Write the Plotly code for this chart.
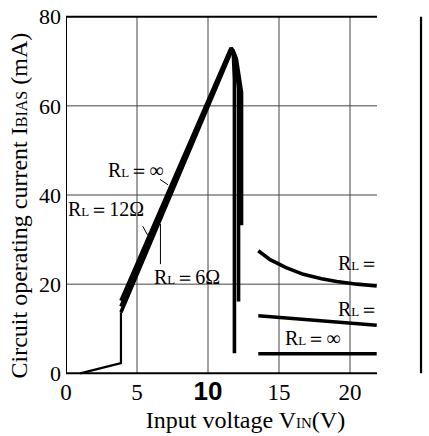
import plotly.graph_objects as go

# ---- data ----
x_ticks = [0, 5, 10, 15, 20, 25]
x_labels = ["0", "5", "10", "15", "20", "25"]
y_ticks = [0, 20, 40, 60, 80]
y_labels = ["0", "20", "40", "60", "80"]
grid_x = [5, 10, 15, 20]
grid_y = [20, 40, 60]
x_drawn_end = 21.9   # scan is blank beyond this voltage

vin_startup = [1.0, 3.87, 3.87]
ibias_startup = [0.0, 2.3, 13.7]

# RL = infinity
vin_rinf = [3.87, 11.5, 11.62, 11.78, 11.86, 11.86, None, 13.54, 21.88]
ibias_rinf = [16.3, 72.2, 73.0, 72.0, 66.0, 4.5, None, 4.4, 4.4]
# RL = 12 ohm
vin_r12 = [3.87, 11.57, 11.7, 11.92, 12.15, 12.15, None, 13.54, 17.7, 21.88]
ibias_r12 = [15.0, 72.3, 72.6, 71.0, 64.0, 16.1, None, 12.9, 11.9, 10.8]
# RL = 6 ohm
vin_r6 = [3.87, 11.64, 11.78, 12.0, 12.36, 12.36, None,
          13.54, 14.37, 15.5, 16.71, 18.0, 19.06, 20.5, 21.88]
ibias_r6 = [13.7, 72.2, 72.3, 70.5, 63.0, 33.2, None,
            27.5, 25.5, 23.7, 22.2, 21.2, 20.6, 20.0, 19.6]

SERIF = "Liberation Serif"
R_L = 'R<span style="font-size:13px">L</span>'


def serif_tick(t):
    if t == "10":
        return '<span style="font-family:Liberation Sans;font-weight:bold;font-size:26px">10</span>'
    return '<span style="font-family:Liberation Serif">' + t + '</span>'


fig = go.Figure()
fig.add_trace(go.Scatter(x=vin_startup, y=ibias_startup, mode="lines",
                         line=dict(color="black", width=2.2), showlegend=False))
for xs, ys in [(vin_rinf, ibias_rinf), (vin_r12, ibias_r12), (vin_r6, ibias_r6)]:
    fig.add_trace(go.Scatter(x=xs, y=ys, mode="lines", connectgaps=False,
                             line=dict(color="black", width=3.6), showlegend=False))

shapes = []
for gx in grid_x:
    shapes.append(dict(type="line", xref="x", yref="y", x0=gx, x1=gx, y0=0, y1=80,
                       line=dict(color="#444", width=1), layer="below"))
for gy in grid_y:
    shapes.append(dict(type="line", xref="x", yref="y", x0=0, x1=x_drawn_end, y0=gy, y1=gy,
                       line=dict(color="#444", width=1), layer="below"))
# frame
shapes += [
    dict(type="line", xref="x", yref="y", x0=0, x1=0, y0=0, y1=80, line=dict(color="black", width=2)),
    dict(type="line", xref="x", yref="y", x0=0, x1=x_drawn_end, y0=80, y1=80, line=dict(color="black", width=2)),
    dict(type="line", xref="x", yref="y", x0=0, x1=x_drawn_end, y0=0, y1=0, line=dict(color="black", width=2)),
    dict(type="line", xref="x", yref="y", x0=25, x1=25, y0=0, y1=80, line=dict(color="black", width=2.2)),
]
# leader lines
shapes += [
    dict(type="line", xref="x", yref="y", x0=6.62, x1=7.18, y0=43.5, y1=42.3, line=dict(color="black", width=1)),
    dict(type="line", xref="x", yref="y", x0=6.65, x1=6.65, y0=24.5, y1=33.5, line=dict(color="black", width=1)),
    dict(type="line", xref="x", yref="y", x0=5.4, x1=5.75, y0=33.0, y1=31.0, line=dict(color="black", width=1)),
]

annots = [
    dict(x=4.95, y=45.6, text=R_L + "＝∞"),
    dict(x=2.85, y=36.9, text=R_L + "＝12Ω"),
    dict(x=8.5, y=21.6, text=R_L + "＝6Ω"),
    dict(x=20.6, y=24.7, text=R_L + "＝"),
    dict(x=20.6, y=14.4, text=R_L + "＝"),
    dict(x=17.4, y=7.9, text=R_L + "＝∞"),
]
annotations = []
for a in annots:
    annotations.append(dict(x=a["x"], y=a["y"], xref="x", yref="y", text=a["text"],
                            showarrow=False, font=dict(family=SERIF, size=20, color="black")))
# y-axis title
annotations.append(dict(
    x=-0.132, y=0.47, xref="paper", yref="paper", xanchor="center", yanchor="middle",
    textangle=-90, showarrow=False,
    text='Circuit operating current I<span style="font-size:16px">BIAS</span> (mA)',
    font=dict(family=SERIF, size=24, color="black")))

fig.update_layout(
    width=429, height=436,
    margin=dict(l=66, r=4, t=12, b=60),
    paper_bgcolor="white", plot_bgcolor="white",
    shapes=shapes, annotations=annotations,
    font=dict(family=SERIF, color="black"),
    xaxis=dict(range=[0, 25.28], tickmode="array", tickvals=x_ticks,
               ticktext=[serif_tick(t) for t in x_labels],
               showgrid=False, zeroline=False, showline=False, ticks="",
               tickfont=dict(family=SERIF, size=23, color="black"),
               title=dict(text='Input voltage V<span style="font-size:15px">IN</span>(V)',
                          font=dict(family=SERIF, size=24, color="black"), standoff=6)),
    yaxis=dict(range=[-0.6, 80.6], tickmode="array", tickvals=y_ticks,
               ticktext=[serif_tick(t) for t in y_labels],
               showgrid=False, zeroline=False, showline=False, ticks="",
               ticklabelstandoff=4,
               tickfont=dict(family=SERIF, size=22, color="black")),
)

fig.write_html("out.html")
